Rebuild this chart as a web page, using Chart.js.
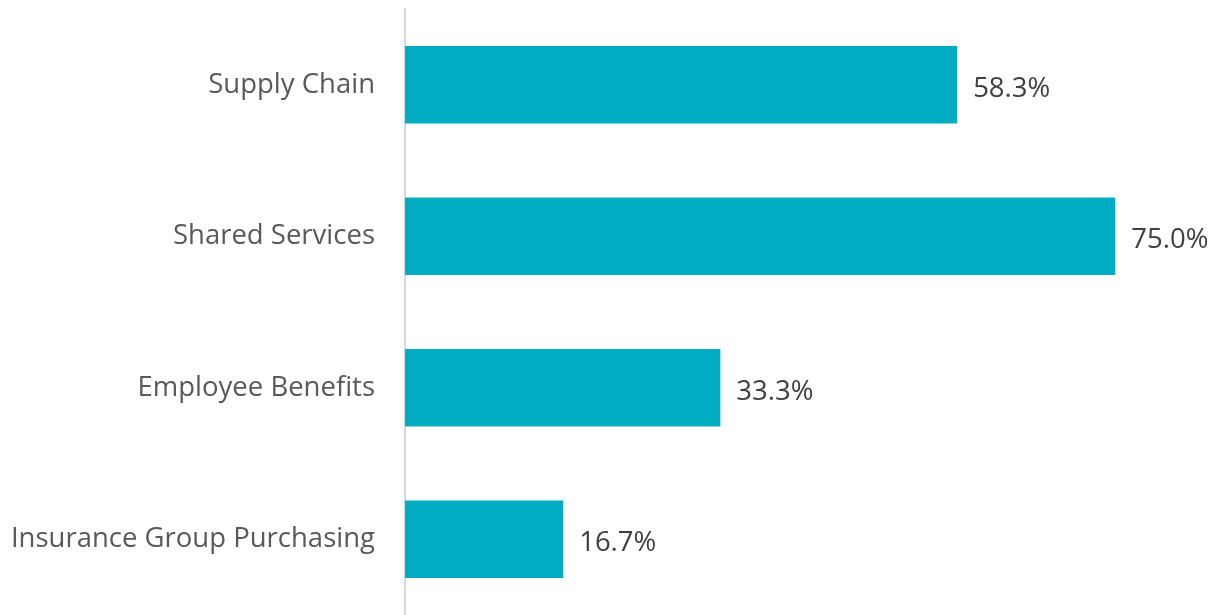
<!DOCTYPE html>
<html lang="en">
<head>
    <meta charset="UTF-8">
    <title>Participation by Program</title>
    <script src="https://cdn.jsdelivr.net/npm/chart.js"></script>
    <style>
        html, body { margin: 0; padding: 0; background: #fff; }
        #wrap { width: 1212px; height: 615px; position: relative; }
    </style>
</head>
<body>
    <div id="wrap"><canvas id="programChart"></canvas></div>

    <script>
        const categories = ['Supply Chain', 'Shared Services', 'Employee Benefits', 'Insurance Group Purchasing'];
        const shares = [58.3, 75.0, 33.3, 16.7];

        const FONT = '"Open Sans", sans-serif';

        // percent labels to the right of each bar
        const valueLabels = {
            id: 'valueLabels',
            afterDatasetsDraw(chart) {
                const ctx = chart.ctx;
                const meta = chart.getDatasetMeta(0);
                ctx.save();
                ctx.font = '27.5px ' + FONT;
                ctx.fillStyle = '#404040';
                ctx.textAlign = 'left';
                ctx.textBaseline = 'middle';
                meta.data.forEach((bar, i) => {
                    ctx.fillText(shares[i].toFixed(1) + '%', bar.x + 16, bar.y + 4);
                });
                ctx.restore();
            }
        };

        new Chart(document.getElementById('programChart'), {
            type: 'bar',
            data: {
                labels: categories,
                datasets: [{
                    data: shares,
                    backgroundColor: '#00ACC1',
                    barPercentage: 0.513,
                    categoryPercentage: 1.0
                }]
            },
            options: {
                indexAxis: 'y',
                responsive: true,
                maintainAspectRatio: false,
                animation: false,
                layout: { padding: { top: 9, right: 2, bottom: 0, left: 0 } },
                plugins: {
                    legend: { display: false },
                    tooltip: { enabled: false }
                },
                scales: {
                    x: {
                        display: false,
                        min: 0,
                        max: 85
                    },
                    y: {
                        afterFit(scale) {
                            scale.width = 405;
                            scale.paddingTop = 0;
                            scale.paddingBottom = 0;
                        },
                        grid: { display: false },
                        border: { display: true, color: '#d9d9d9', width: 2 },
                        ticks: {
                            color: '#595959',
                            padding: 22,
                            font: { family: FONT, size: 27.5 }
                        }
                    }
                }
            },
            plugins: [valueLabels]
        });
    </script>
</body>
</html>
